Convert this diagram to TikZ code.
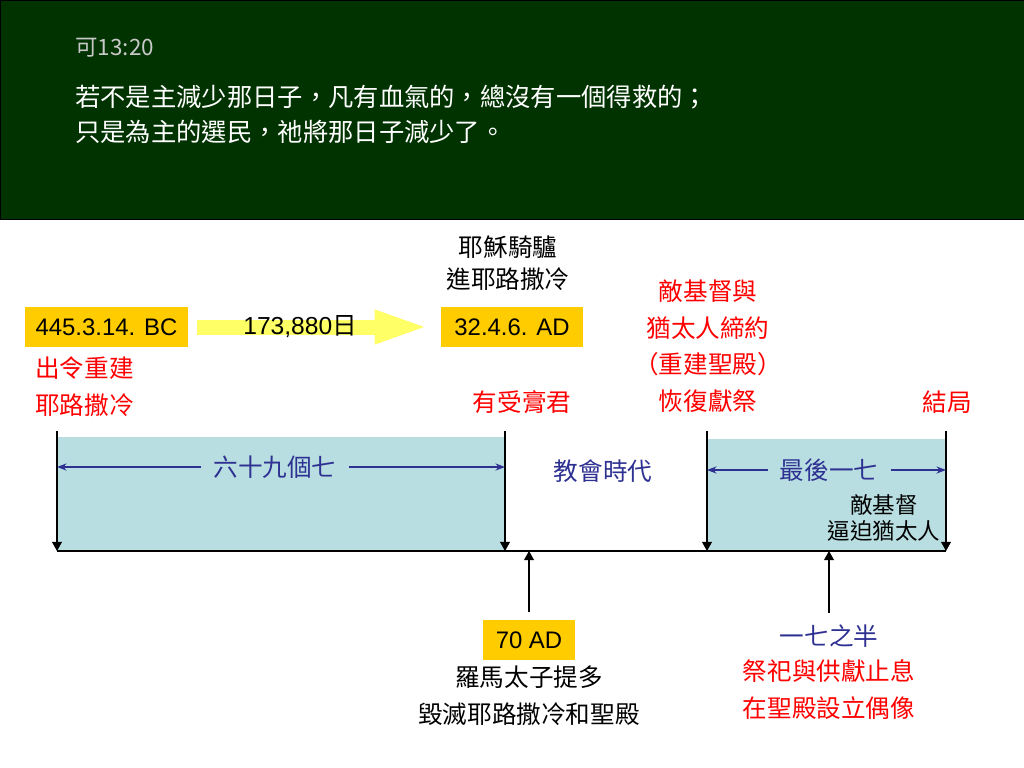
\documentclass[tikz,border=0pt]{standalone}
\usepackage{fontspec}
\setmainfont{Liberation Sans}
\newfontfamily\cjk{Noto Sans CJK TC}
\usetikzlibrary{arrows.meta,positioning}
\definecolor{board}{RGB}{0,51,0}
\definecolor{gold}{RGB}{255,204,0}
\definecolor{pale}{RGB}{255,255,102}
\definecolor{sea}{RGB}{184,222,225}
\definecolor{ink}{RGB}{46,49,146}
\definecolor{alarm}{RGB}{255,0,0}
\definecolor{dim}{RGB}{200,200,200}

\begin{document}
\begin{tikzpicture}[x=0.025cm, y=-0.025cm,
  lbl/.style = {font=\cjk\fontsize{17.5}{26}\selectfont, align=center, inner sep=0pt},
  warn/.style = {lbl, text=alarm},
  era/.style = {lbl, text=ink},
  datebox/.style = {fill=gold, font=\fontsize{17}{20}\selectfont, minimum height=1cm, inner sep=0pt},
  tick/.style = {-{Triangle[length=0.23cm, width=0.25cm]}, line width=0.8pt},
  span/.style = {-{Stealth[length=0.24cm, width=0.18cm]}, ink, line width=0.9pt}]
	\useasboundingbox (0,0) rectangle (1024,768);
	\fill[white] (0,0) rectangle (1024,768);
	% header with the verse
	\filldraw[fill=board, draw=black] (0,0) rectangle (1024,219);
	\node[font=\cjk\fontsize{16}{19}\selectfont, text=dim, anchor=west, inner sep=0pt] (ref) at (75,48) {可13:20};
	\node[font=\cjk\fontsize{18}{25}\selectfont, text=white, anchor=west, align=left, inner sep=0pt] (verse) at (75,114.5) {若不是主減少那日子，凡有血氣的，總沒有一個得救的；\\只是為主的選民，祂將那日子減少了。};
	% dates on top
	\node[datebox, minimum width=4.075cm] (bc) at (106.5,327) {445.3.14. BC};
	\node[datebox, minimum width=3.55cm] (ad) at (512,327) {32.4.6. AD};
	\draw[pale, line width=0.375cm, -{Triangle[length=1.375cm, width=0.75cm]}, shorten <=0.225cm, shorten >=0.275cm] (bc) -- node[pos=0.443, text=black, font=\fontsize{17.5}{20}\selectfont] (days) {173,880{\cjk 日}} (ad);
	\node[lbl, font=\cjk\fontsize{17.5}{23}\selectfont] (ride) at (508,263) {耶穌騎驢\\進耶路撒冷};
	\node[warn, anchor=west, align=left] (decree) at (35,386.5) {出令重建\\耶路撒冷};
	\node[warn] (anointed) at (522,402) {有受膏君};
	\node[warn] (covenant) at (708,346) {敵基督與\\猶太人締約\\（重建聖殿）\\恢復獻祭};
	\node[warn] (finale) at (947,402) {結局};
	% the time line
	\fill[sea] (57,437) rectangle (505,551);
	\fill[sea] (707,439) rectangle (946,551);
	\coordinate (t1) at (57,431);
	\coordinate (t2) at (505,431);
	\coordinate (t3) at (707,431);
	\coordinate (t4) at (946,431);
	\coordinate (s1) at (57,551);
	\coordinate (s2) at (505,551);
	\coordinate (s3) at (707,551);
	\coordinate (s4) at (946,551);
	\draw[line width=0.8pt] (s1) -- (s4);
	\draw[tick] (t1) -- (s1);
	\draw[tick] (t2) -- (s2);
	\draw[tick] (t3) -- (s3);
	\draw[tick] (t4) -- (s4);
	\node[era, inner xsep=0.3cm] (sixtynine) at (275,467) {六十九個七};
	\node[era] (church) at (603,471) {教會時代};
	\node[era, inner xsep=0.3cm] (lastweek) at (829,470) {最後一七};
	\draw[span] (sixtynine) -- (sixtynine -| s1);
	\draw[span] (sixtynine) -- (sixtynine -| s2);
	\draw[span] (lastweek) -- (lastweek -| s3);
	\draw[span] (lastweek) -- (lastweek -| s4);
	\node[lbl, font=\cjk\fontsize{16}{19}\selectfont] (persecute) at (884,518) {敵基督\\逼迫猶太人};
	% below the line
	\node[datebox, minimum width=2.3cm] (titus) at (529,640) {70 AD};
	\node[lbl] (ruin) [below=0.14cm of titus] {羅馬太子提多\\毀滅耶路撒冷和聖殿};
	\draw[tick, shorten <=0.2cm] (titus) -- (titus |- s1);
	\node[era] (halfweek) at (829,636) {一七之半};
	\node[warn] (abomination) [below=0.3cm of halfweek] {祭祀與供獻止息\\在聖殿設立偶像};
	\draw[tick, shorten <=0.29cm] (halfweek) -- (halfweek |- s1);
\end{tikzpicture}
\end{document}
